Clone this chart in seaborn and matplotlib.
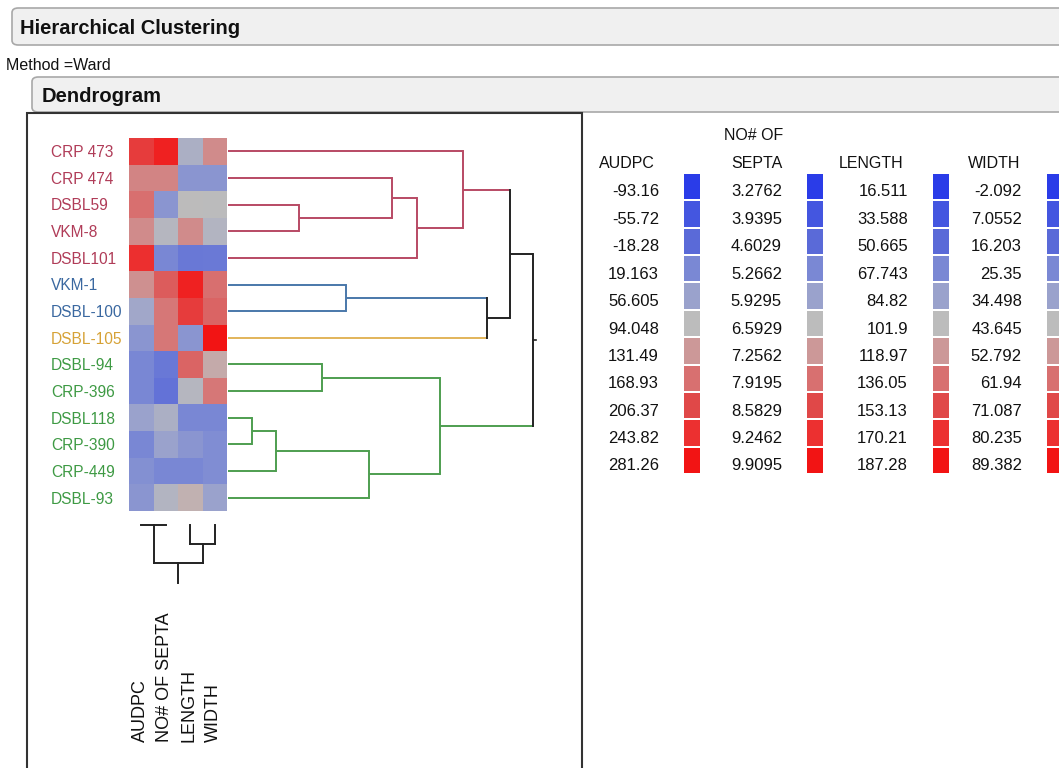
import numpy as np
import pandas as pd
import matplotlib
matplotlib.use("Agg")
import matplotlib.pyplot as plt
import seaborn as sns
from matplotlib.colors import LinearSegmentedColormap, ListedColormap
from matplotlib.patches import FancyBboxPatch, Rectangle
from matplotlib.transforms import blended_transform_factory

# ---------------- data ----------------
rows = ["CRP 473", "CRP 474", "DSBL59", "VKM-8", "DSBL101", "VKM-1", "DSBL-100",
        "DSBL-105", "DSBL-94", "CRP-396", "DSBL118", "CRP-390", "CRP-449", "DSBL-93"]
row_group = ["red", "red", "red", "red", "red", "blue", "blue",
             "orange", "green", "green", "green", "green", "green", "green"]
columns = ["AUDPC", "NO# OF SEPTA", "LENGTH", "WIDTH"]

audpc = [225, 150, 169, 143, 244, 139, 64, 38, 19, 19, 57, 19, 30, 38]
septa = [9.58, 7.59, 5.60, 6.46, 5.27, 8.25, 7.79, 7.79, 4.93, 4.80, 6.26, 5.93, 5.27, 6.39]
length = [93.4, 76.3, 101.9, 124.1, 59.2, 178.7, 161.7, 76.3, 141.2, 98.5, 67.7, 76.3, 67.7, 107.0]
width = [55.5, 29.9, 43.6, 40.9, 20.8, 61.9, 64.7, 89.4, 48.2, 60.1, 25.3, 27.2, 27.2, 34.5]

# legend scales (min .. max per column)
leg_audpc = ["-93.16", "-55.72", "-18.28", "19.163", "56.605", "94.048", "131.49", "168.93", "206.37", "243.82", "281.26"]
leg_septa = ["3.2762", "3.9395", "4.6029", "5.2662", "5.9295", "6.5929", "7.2562", "7.9195", "8.5829", "9.2462", "9.9095"]
leg_length = ["16.511", "33.588", "50.665", "67.743", "84.82", "101.9", "118.97", "136.05", "153.13", "170.21", "187.28"]
leg_width = ["-2.092", "7.0552", "16.203", "25.35", "34.498", "43.645", "52.792", "61.94", "71.087", "80.235", "89.382"]

# row dendrogram merges: (child a, child b, distance); leaves are 0..13, merges numbered from 14
row_merges = [(2, 3, 0.71), (1, 14, 1.64), (15, 4, 1.89), (0, 16, 2.35),
              (5, 6, 1.18), (18, 7, 2.59), (17, 19, 2.82),
              (8, 9, 0.94), (10, 11, 0.24), (22, 12, 0.48), (23, 13, 1.41),
              (21, 24, 2.12), (20, 25, 3.05)]
# column dendrogram merges: leaves 0..3, merges from 4
col_merges = [(0, 1, 0.0), (2, 3, 1.9), (4, 5, 3.8)]

# ---------------- styling ----------------
plt.rcParams["font.family"] = ["Liberation Sans", "DejaVu Sans"]
W, H = 1059, 768
fig = plt.figure(figsize=(W / 100, H / 100), dpi=100)
fig.patch.set_facecolor("white")

def fx(x):
    return x / W

def fy(y):
    return 1 - y / H

def add_ax(x0, y0, x1, y1):
    return fig.add_axes([fx(x0), fy(y1), fx(x1) - fx(x0), fy(y0) - fy(y1)])

leg_colors = ["#2a3ce8", "#4456e0", "#5a6ad8", "#7a88d4", "#9aa2cc", "#bcbcbc",
              "#cc9898", "#d87070", "#e04848", "#ec3030", "#f21414"]
cmap = LinearSegmentedColormap.from_list("jmp", leg_colors)
line_col = {"red": "#b84a64", "blue": "#4a78aa", "orange": "#e2b45a", "green": "#4e9e50", None: "#222222"}
label_col = {"red": "#b03c58", "blue": "#3a68a0", "orange": "#d6a236", "green": "#3e9a44"}

# ---------------- header boxes ----------------
for (x0, y0, x1, y1) in [(12, 8, 1075, 45), (32, 77, 1075, 112)]:
    fig.patches.append(FancyBboxPatch((fx(x0), fy(y1)), fx(x1) - fx(x0), fy(y0) - fy(y1),
                                      boxstyle="round,pad=0,rounding_size=0.006",
                                      transform=fig.transFigure, facecolor="#f0f0f0",
                                      edgecolor="#a8a8a8", linewidth=1.2))
fig.text(fx(20), fy(29), "Hierarchical Clustering", fontsize=14.5, fontweight="bold",
         va="center", ha="left", color="#111111")
fig.text(fx(6), fy(65), "Method =Ward", fontsize=11.5, va="center", ha="left", color="#111111")
fig.text(fx(42), fy(96), "Dendrogram", fontsize=14.5, fontweight="bold",
         va="center", ha="left", color="#111111")

# frame
fig.patches.append(Rectangle((fx(27), fy(775)), fx(582) - fx(27), fy(113) - fy(775),
                             transform=fig.transFigure, fill=False, edgecolor="#333333",
                             linewidth=1.5))

# ---------------- heatmap ----------------
df = pd.DataFrame({"AUDPC": audpc, "NO# OF SEPTA": septa, "LENGTH": length, "WIDTH": width},
                  index=rows)
mins = [float(l[0]) for l in (leg_audpc, leg_septa, leg_length, leg_width)]
maxs = [float(l[-1]) for l in (leg_audpc, leg_septa, leg_length, leg_width)]
norm = (df - np.array(mins)) / (np.array(maxs) - np.array(mins))

axh = add_ax(129, 138, 227, 511)
sns.heatmap(norm, cmap=cmap, vmin=0, vmax=1, cbar=False, ax=axh,
            xticklabels=False, yticklabels=False)
axh.set_xlabel("")
axh.set_ylabel("")
tr = blended_transform_factory(fig.transFigure, axh.transData)
for i, (name, g) in enumerate(zip(rows, row_group)):
    axh.text(fx(51), i + 0.55, name, transform=tr, ha="left", va="center",
             fontsize=11.2, color=label_col[g])

# column labels
for j, c in enumerate(columns):
    x = 129 + (j + 0.5) * (227 - 129) / 4
    fig.text(fx(x - 1), fy(742), c, rotation=90, ha="center", va="bottom",
             fontsize=13, color="#111111")

# ---------------- row dendrogram ----------------
axd = add_ax(228, 138, 545, 511)
axd.set_xlim(0, (545 - 228) / 100)
axd.set_ylim(14, 0)
axd.axis("off")

pos = {i: i + 0.5 for i in range(len(rows))}
hgt = {i: 0.0 for i in range(len(rows))}
grp = {i: row_group[i] for i in range(len(rows))}
n = len(rows)
for k, (a, b, d) in enumerate(row_merges):
    m = n + k
    g = grp[a] if grp[a] == grp[b] else None
    for c in (a, b):
        axd.plot([hgt[c], d], [pos[c], pos[c]], color=line_col[grp[c]], lw=1.4,
                 solid_capstyle="butt", clip_on=False)
    axd.plot([d, d], [pos[a], pos[b]], color=line_col[g], lw=1.4, clip_on=False)
    pos[m] = (pos[a] + pos[b]) / 2
    hgt[m] = d
    grp[m] = g
root = n + len(row_merges) - 1
axd.plot([hgt[root], hgt[root] + 0.03], [pos[root], pos[root]], color="#222222", lw=1.2)

# ---------------- column dendrogram ----------------
axc = add_ax(129, 525, 227, 600)
axc.set_xlim(-0.5, 3.5)
axc.set_ylim(7.5, 0)
axc.axis("off")
cpos = {i: float(i) for i in range(4)}
chgt = {i: 0.0 for i in range(4)}
for k, (a, b, d) in enumerate(col_merges):
    m = 4 + k
    for c in (a, b):
        axc.plot([cpos[c], cpos[c]], [chgt[c], d], color="#222222", lw=1.4, clip_on=False)
    axc.plot([cpos[a], cpos[b]], [d, d], color="#222222", lw=1.4, clip_on=False)
    cpos[m] = (cpos[a] + cpos[b]) / 2
    chgt[m] = d
croot = 4 + len(col_merges) - 1
axc.plot([cpos[croot], cpos[croot]], [chgt[croot], chgt[croot] + 2.0], color="#222222", lw=1.4)

# ---------------- legend ----------------
leg_sets = [
    (["AUDPC"], leg_audpc, 655, 659, 683),
    (["NO# OF", "SEPTA"], leg_septa, 783, 782, 806),
    (["LENGTH"], leg_length, 903, 908, 932),
    (["WIDTH"], leg_width, 1020, 1022, 1046),
]
sw_cmap = ListedColormap(leg_colors)
for head, vals, hx, vx, sx in leg_sets:
    for k, h in enumerate(reversed(head)):
        fig.text(fx(hx), fy(164 - 29 * k), h, ha="right", va="center", fontsize=11.5, color="#111111")
    for i, v in enumerate(vals):
        fig.text(fx(vx), fy(192 + 27.4 * i), v, ha="right", va="center", fontsize=12, color="#111111")
    axs = add_ax(sx, 173, sx + 18, 474)
    sns.heatmap(np.arange(len(vals)).reshape(-1, 1), cmap=sw_cmap, vmin=-0.5, vmax=10.5,
                cbar=False, ax=axs, xticklabels=False, yticklabels=False,
                linewidths=1.2, linecolor="white")

fig.savefig("out.png", dpi=100, facecolor="white")
